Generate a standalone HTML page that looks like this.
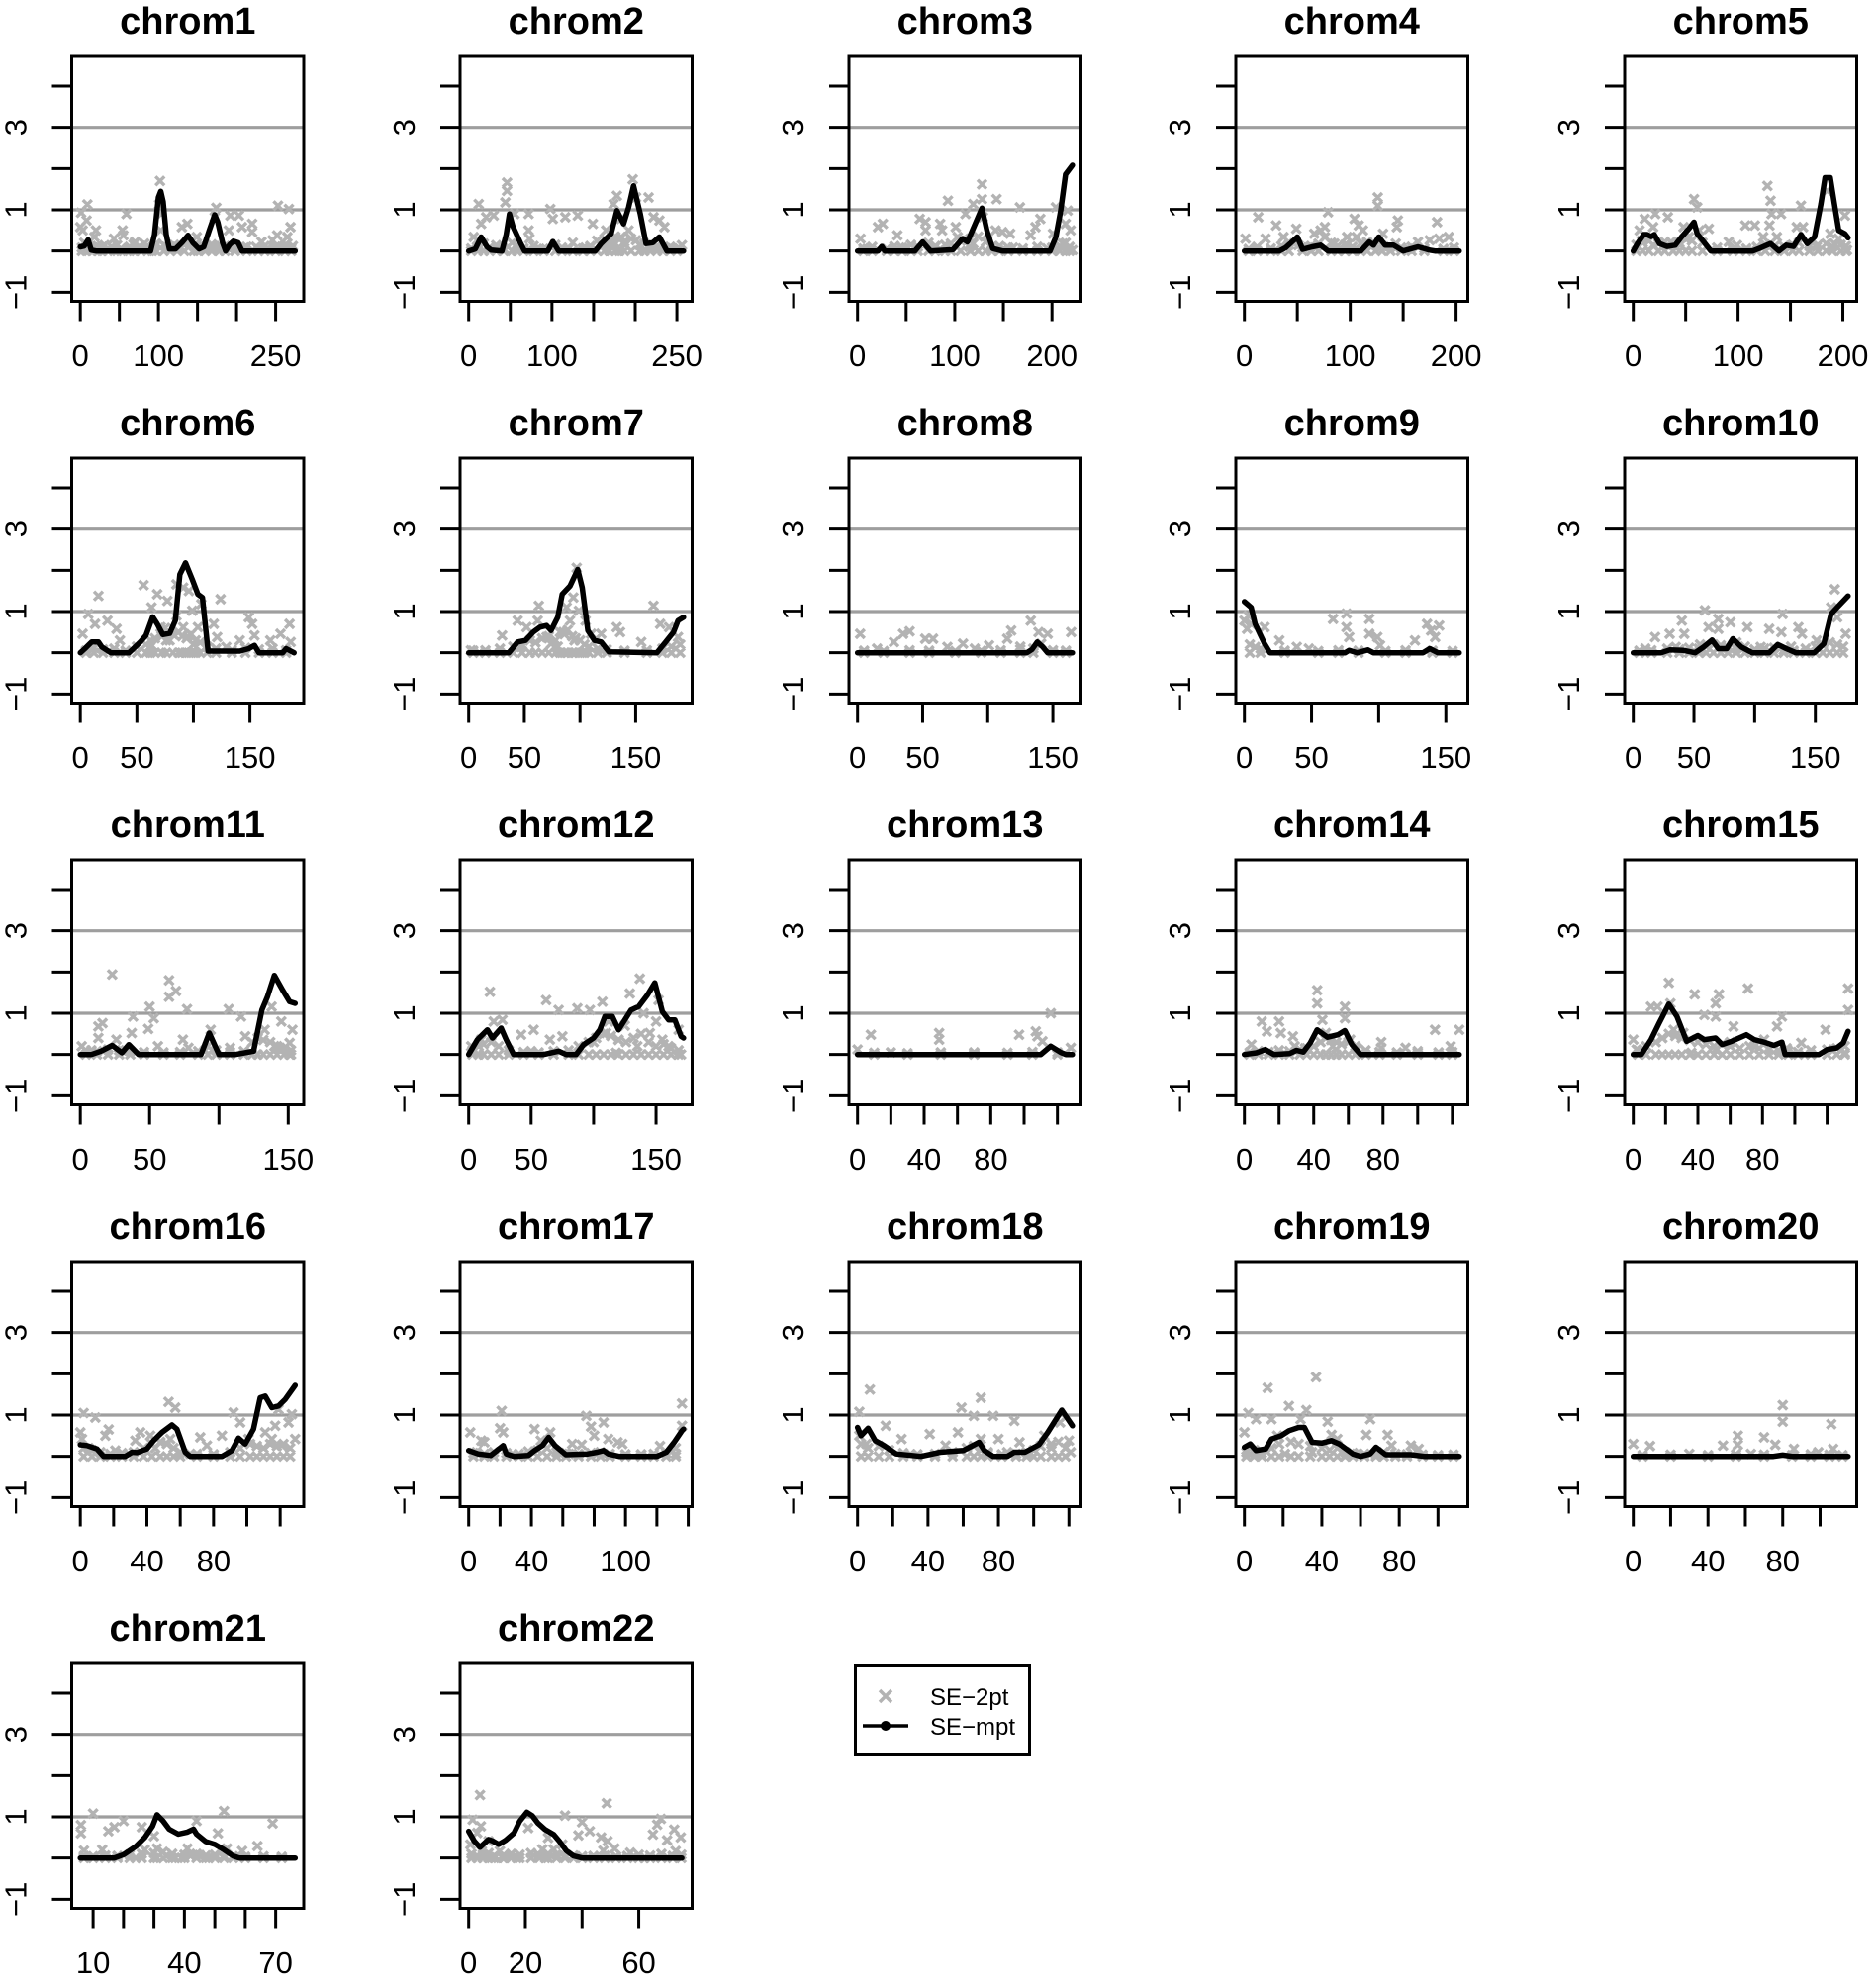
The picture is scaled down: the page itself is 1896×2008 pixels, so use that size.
<!DOCTYPE html>
<html><head><meta charset="utf-8"><style>
html,body{margin:0;padding:0;background:#fff}
svg{display:block}
text{font-family:"Liberation Sans",Arial,sans-serif}
</style></head>
<body>
<svg id="chart" width="1896" height="2008" viewBox="0 0 1896 2008" xmlns="http://www.w3.org/2000/svg">
<rect width="1896" height="2008" fill="#fff"/>
<g id="panels"></g>
<g>
<rect x="864.5" y="1683.5" width="176" height="90" fill="#fff" stroke="#000" stroke-width="3"/>
<g>
<path d="M889 1708 L901 1720 M901 1708 L889 1720" stroke="#b3b3b3" stroke-width="3.5"/>
<text x="940" y="1723" font-size="24">SE−2pt</text>
</g>
<g>
<line x1="872" y1="1744" x2="918" y2="1744" stroke="#000" stroke-width="3.5"/>
<circle cx="895" cy="1744" r="5" fill="#000"/>
<text x="940" y="1753" font-size="24">SE−mpt</text>
</g>
</g>
</svg>
<script>
const chromNames=["chrom1","chrom2","chrom3","chrom4","chrom5","chrom6","chrom7","chrom8","chrom9","chrom10","chrom11","chrom12","chrom13","chrom14","chrom15","chrom16","chrom17","chrom18","chrom19","chrom20","chrom21","chrom22"];
const xMin=[0,0,0,0,0,0,0,0,0,0,0,0,0,0,0,0,0,0,0,0,5.8,0];
const xMax=[275,258,221,203,205,190,193,165,160,177,155,172,129,124,133,129,137,122,111,115,76.4,75.8];
const xTicks=[
[0,50,100,150,200,250],[0,50,100,150,200,250],[0,50,100,150,200],[0,50,100,150,200],[0,50,100,150,200],
[0,50,100,150],[0,50,100,150],[0,50,100,150],[0,50,100,150],[0,50,100,150],
[0,50,100,150],[0,50,100,150],[0,20,40,60,80,100,120],[0,20,40,60,80,100,120],[0,20,40,60,80,100,120],
[0,20,40,60,80,100,120],[0,20,40,60,80,100,120,140],[0,20,40,60,80,100,120],[0,20,40,60,80,100],[0,20,40,60,80,100],
[10,20,30,40,50,60,70],[0,20,40,60]];
const xTickLabels=[
[0,100,250],[0,100,250],[0,100,200],[0,100,200],[0,100,200],
[0,50,150],[0,50,150],[0,50,150],[0,50,150],[0,50,150],
[0,50,150],[0,50,150],[0,40,80],[0,40,80],[0,40,80],
[0,40,80],[0,40,100],[0,40,80],[0,40,80],[0,40,80],
[10,40,70],[0,20,60]];
const yTicks=[-1,0,1,2,3,4];
const yTickLabels=[-1,1,3];
const refLines=[1,3];

const mptLines=[
[[0,.1],[5,.12],[10,.27],[14,.02],[20,0],[90,0],[95,.4],[100,1.3],[103,1.45],[106,1.2],[110,.4],[114,.05],[122,.05],[130,.2],[138,.38],[144,.2],[152,.05],[158,.1],[165,.5],[172,.88],[176,.7],[182,.2],[186,0],[191,.15],[196,.24],[202,.2],[207,0],[275,0]],
[[0,0],[8,.05],[15,.34],[22,.1],[27,.02],[40,0],[45,.4],[49,.9],[53,.6],[58,.38],[62,.2],[67,0],[95,0],[101,.23],[108,0],[152,0],[159,.18],[171,.42],[178,.98],[186,.66],[192,1.06],[198,1.58],[206,.9],[213,.18],[221,.2],[229,.34],[238,0],[258,0]],
[[0,0],[21,0],[25,.11],[28,0],[59,0],[67,.22],[75,0],[98,.03],[108,.3],[113,.22],[121,.66],[128,1.04],[133,.5],[139,.06],[149,0],[198,0],[204,.34],[209,.98],[214,1.86],[221,2.08]],
[[0,0],[33,0],[39,.08],[45,.22],[50,.34],[55,.04],[64,.1],[72,.14],[79,0],[110,0],[118,.22],[122,.14],[127,.34],[133,.14],[141,.14],[150,0],[164,.1],[175,.02],[180,0],[203,0]],
[[0,0],[4,.18],[10,.4],[13,.4],[17,.35],[20,.4],[25,.18],[32,.11],[40,.14],[46,.34],[53,.54],[58,.7],[61,.42],[66,.26],[74,0],[114,0],[120,.06],[131,.18],[139,0],[146,.14],[153,.11],[160,.4],[166,.18],[173,.34],[179,1.14],[183,1.78],[188,1.78],[192,1.14],[196,.5],[202,.42],[205,.32]],
[[0,0],[4,.1],[10,.26],[16,.26],[19,.14],[27,0],[43,0],[53,.26],[58,.42],[64,.87],[68,.7],[73,.44],[79,.47],[84,.78],[88,1.9],[93,2.18],[99,1.78],[104,1.42],[108,1.34],[113,.04],[141,.04],[149,.1],[154,.18],[158,0],[179,0],[182,.1],[189,0]],
[[0,0],[36,0],[44,.26],[51,.3],[58,.5],[64,.62],[70,.66],[74,.54],[80,.86],[84,1.42],[91,1.62],[98,2.02],[102,1.58],[107,.54],[113,.3],[119,.26],[126,.02],[169,0],[177,.26],[184,.5],[188,.78],[193,.86]],
[[0,0],[130,0],[134,.08],[138,.26],[142,.15],[146,0],[165,0]],
[[0,1.24],[5,1.1],[8,.7],[15,.22],[19,0],[75,0],[78,.06],[84,0],[92,.07],[96,0],[133,0],[138,.1],[144,0],[160,0]],
[[0,0],[23,0],[30,.07],[41,.06],[51,0],[58,.14],[65,.31],[70,.1],[77,.1],[82,.34],[89,.14],[98,0],[112,0],[119,.2],[126,.1],[134,0],[149,0],[157,.22],[163,.94],[168,1.1],[177,1.38]],
[[0,0],[8,0],[15,.08],[23,.22],[30,.04],[35,.24],[42,0],[87,0],[93,.52],[100,0],[112,0],[125,.08],[131,1.08],[135,1.4],[140,1.92],[146,1.56],[151,1.28],[155,1.24]],
[[0,0],[7,.36],[15,.6],[19,.4],[26,.64],[30,.36],[36,0],[60,0],[72,.08],[78,0],[86,0],[92,.24],[100,.4],[105,.6],[109,.92],[115,.92],[120,.6],[125,.84],[130,1.08],[136,1.16],[143,1.44],[149,1.74],[155,1.04],[160,.84],[165,.84],[170,.44],[172,.4]],
[[0,0],[110,0],[116,.2],[122,.05],[125,0],[129,0]],
[[0,0],[7,.04],[12,.12],[17,0],[26,.02],[30,.1],[34,.06],[38,.28],[42,.6],[48,.42],[54,.48],[58,.58],[62,.24],[67,0],[124,0]],
[[0,0],[5,0],[11,.36],[16,.76],[22,1.22],[27,.92],[33,.32],[40,.46],[44,.36],[51,.4],[55,.24],[61,.32],[70,.48],[75,.36],[81,.3],[87,.22],[92,.3],[94,0],[115,0],[120,.12],[126,.16],[130,.28],[133,.56]],
[[0,.28],[4,.26],[10,.18],[14,0],[27,0],[31,.1],[34,.09],[40,.18],[44,.38],[49,.58],[55,.76],[58,.66],[63,.1],[66,0],[85,0],[91,.14],[95,.44],[99,.3],[104,.66],[108,1.42],[111,1.46],[115,1.18],[119,1.22],[123,1.38],[129,1.72]],
[[0,.14],[6,.06],[14,.02],[18,.14],[22,.26],[24,.06],[29,0],[38,.02],[42,.14],[47,.26],[51,.46],[55,.26],[62,.04],[76,.06],[82,.1],[86,.14],[89,.06],[96,0],[120,0],[126,.1],[131,.34],[136,.62],[137,.66]],
[[0,.7],[2,.5],[6,.68],[10,.38],[15,.26],[22,.06],[36,0],[47,.1],[60,.14],[69,.34],[72,.14],[77,0],[85,0],[89,.1],[95,.1],[103,.28],[108,.58],[116,1.12],[122,.74]],
[[0,.22],[3,.3],[6,.14],[11,.18],[14,.42],[19,.5],[23,.62],[28,.7],[31,.7],[35,.34],[40,.32],[45,.38],[49,.3],[56,.06],[60,0],[65,.06],[68,.22],[73,.04],[86,.04],[93,0],[111,0]],
[[0,0],[75,0],[80,.03],[85,0],[115,0]],
[[5.8,0],[17,0],[20,.08],[24,.28],[27,.5],[29.5,.77],[31,1.05],[33,.9],[35,.7],[38,.58],[41,.63],[43,.7],[44,.58],[47,.4],[50,.33],[53,.2],[56,.05],[58,0],[76.4,0]],
[[0,.65],[2,.41],[4,.26],[7,.45],[8.6,.41],[10.6,.33],[13,.43],[16,.61],[18,.89],[20.5,1.11],[22.4,1.03],[24.4,.85],[27,.69],[30,.57],[32,.41],[34.4,.18],[37,.05],[40,0],[75.2,0]]
];

const twoPtPoints=[
[[1,.93],[9,1.13],[8,.74],[0,.58],[3,.5],[20,.5],[18,.34],[31,.14],[43,.3],[54,.5],[59,.9],[55,.38],[70,.22],[82,.18],[102,1.7],[101,1.13],[104,.9],[103,.5],[130,.58],[137,.66],[149,.34],[174,1.05],[172,.82],[190,.5],[192,.86],[203,.86],[207,.58],[220,.66],[220,.46],[232,.22],[253,1.1],[252,.38],[267,1.02],[269,.58],[265,.34],[246,.26],[5,.2],[12,.1],[25,.08],[40,.1],[60,.05],[75,.1],[95,.1],[110,.1],[120,.15],[140,.12],[155,.15],[165,.1],[180,.12],[195,.1],[210,.08],[225,.1],[240,.06],[258,.1],[272,.12]],
[[12,1.14],[6,.34],[15,.66],[21,.82],[30,.86],[46,1.66],[46,1.46],[44,1.18],[55,.9],[72,.9],[72,.5],[73,.3],[98,1.02],[101,.78],[116,.82],[131,.86],[149,.66],[165,.5],[174,1.14],[178,1.34],[183,.78],[197,1.74],[201,1.3],[216,1.3],[222,.82],[229,.74],[235,.58],[256,.14],[183,.34],[192,.5],[201,.26],[171,.18],[10,.1],[35,.08],[60,.1],[85,.05],[120,.06],[140,.08],[160,.12],[175,.2],[188,.15],[208,.1],[245,.06]],
[[3,.3],[21,.58],[26,.66],[41,.38],[64,.78],[70,.7],[70,.5],[85,.66],[87,.5],[93,1.22],[101,.58],[103,.34],[111,.9],[119,1.14],[128,1.62],[128,1.26],[129,.82],[143,1.26],[142,.5],[149,.46],[157,.42],[167,1.06],[178,.38],[183,.58],[188,.78],[201,.42],[204,1.06],[214,.66],[219,.5],[216,.98],[221,.02],[211,.18],[134,.26],[119,.18],[10,.05],[50,.08],[80,.1],[115,.1],[160,.08],[195,.06]],
[[1,.3],[13,.82],[20,.3],[30,.62],[37,.34],[49,.54],[47,.18],[66,.42],[72,.5],[79,.94],[76,.58],[76,.34],[85,.18],[97,.34],[104,.78],[108,.62],[112,.5],[106,.34],[126,1.3],[126,1.1],[131,.42],[145,.74],[144,.58],[143,.18],[164,.22],[175,.26],[182,.7],[184,.3],[193,.34],[97,.14],[51,.14],[120,.15],[60,.08],[90,.05],[155,.05]],
[[11,.78],[19,.58],[21,.9],[33,.82],[6,.5],[36,.22],[48,.58],[53,.34],[58,1.26],[61,1.06],[63,.5],[72,.54],[91,.22],[107,.62],[116,.62],[128,1.58],[131,1.22],[132,.9],[130,.62],[141,.9],[137,.34],[124,.34],[160,1.1],[156,.58],[162,.58],[185,1.46],[188,.42],[192,.18],[202,.86],[196,.3],[204,.02],[19,.14],[99,.14],[8,.25],[45,.15],[150,.12],[175,.1]],
[[2,.46],[7,.94],[16,1.38],[13,.7],[24,.78],[32,.58],[35,.3],[56,1.64],[63,1.1],[68,1.42],[71,.62],[77,1.26],[85,1.66],[91,1.58],[96,1.5],[99,1.02],[91,.62],[104,.62],[107,1.18],[118,.7],[124,1.3],[121,.38],[129,.14],[141,.3],[149,.86],[152,.7],[154,.42],[168,.3],[177,.46],[185,.7],[186,.26],[79,.3],[63,.18],[85,.9],[95,.4],[75,.6],[100,.2]],
[[2,.06],[30,.42],[44,.78],[52,.62],[63,1.14],[62,.78],[70,.38],[88,1.1],[91,.78],[97,2.06],[94,1.34],[99,1.02],[105,.78],[110,.46],[119,.46],[133,.62],[136,.5],[155,.26],[166,1.14],[172,.7],[180,.62],[188,.38],[186,.1],[74,.22],[47,.14],[85,.5],[95,.3],[80,.15]],
[[2,.46],[28,.26],[35,.46],[40,.52],[52,.34],[58,.34],[81,.22],[115,.34],[118,.54],[133,.78],[139,.5],[146,.46],[141,.22],[164,.5],[101,.18],[69,.14],[15,.1],[90,.1],[125,.15]],
[[0,.78],[2,.58],[5,.7],[15,.62],[26,.3],[8,.14],[48,.1],[66,.82],[76,.95],[76,.62],[78,.38],[93,.82],[93,.46],[99,.38],[101,.18],[127,.3],[136,.7],[139,.54],[145,.66],[142,.38],[39,.14],[3,.9]],
[[18,.38],[30,.46],[40,.78],[42,.46],[59,1.03],[62,.62],[70,.82],[70,.58],[80,.74],[94,.62],[112,.58],[123,.94],[122,.5],[136,.62],[139,.46],[166,1.54],[163,1.1],[168,.86],[175,.46],[151,.3],[35,.14],[105,.14],[10,.1],[55,.2],[85,.25],[130,.15]],
[[1,.2],[13,.68],[16,.76],[13,.4],[23,1.94],[26,.36],[38,.92],[37,.52],[50,1.16],[49,.62],[53,.88],[64,1.8],[69,1.54],[64,1.4],[77,1.1],[74,.36],[94,.6],[107,1.1],[119,.44],[116,.92],[133,.6],[138,1.16],[145,.8],[144,.16],[151,.28],[153,.6],[140,.2],[151,0],[56,.2],[78,.16],[108,.16],[8,.1],[30,.1],[90,.1]],
[[2,.2],[10,.36],[17,1.52],[20,.8],[27,.84],[42,.48],[52,.6],[62,1.32],[65,.36],[72,1.08],[75,.44],[87,1.12],[97,1.08],[107,1.28],[110,.52],[120,.36],[129,1.48],[137,1.84],[140,1],[145,.52],[152,1.32],[155,.36],[160,.2],[168,.6],[170,0],[135,.2],[118,.04],[50,.08],[100,.3],[125,.7],[150,.8],[112,.8]],
[[8,.48],[49,.52],[49,.36],[0,.12],[97,.48],[107,.56],[108,.44],[111,.32],[116,1],[128,.16],[90,.04],[20,.05],[70,.05]],
[[4,.24],[10,.8],[13,.56],[20,.8],[21,.52],[28,.44],[29,.2],[42,1.56],[42,1.24],[45,.84],[47,.52],[58,1.16],[58,.88],[61,.36],[79,.3],[79,.16],[93,.16],[110,.6],[119,.2],[124,.6],[100,.08],[51,.2],[35,.15],[65,.15]],
[[0,.36],[2,.12],[11,1.16],[15,1.16],[22,1.74],[23,1.24],[25,.6],[31,.52],[38,1.46],[44,.96],[51,1.24],[51,.92],[53,1.46],[62,.68],[71,1.6],[81,.36],[89,.68],[92,.92],[104,.28],[119,.6],[133,1.6],[133,1.08],[131,.04],[51,.12],[36,.04],[60,.3],[75,.2],[95,.15],[110,.1]],
[[0,.58],[1,.42],[2,1.05],[9,.94],[15,.5],[17,.65],[21,.14],[33,.38],[36,.58],[42,.5],[48,.34],[53,1.32],[57,1.18],[54,.42],[72,.46],[76,.26],[85,.5],[92,1.06],[96,.82],[101,.42],[111,.58],[115,.42],[117,.74],[121,.26],[125,.82],[127,1.02],[129,.42],[119,1.14],[66,.06],[29,.06],[5,.2],[45,.2]],
[[1,.58],[8,.38],[10,.34],[20,.68],[21,1.1],[22,.58],[42,.66],[46,.38],[52,.58],[66,.3],[72,.28],[75,.98],[78,.72],[86,.82],[80,.5],[89,.42],[95,.34],[98,.3],[122,.25],[136,1.28],[136,.74],[132,.06],[64,.06],[28,.06],[5,.1],[110,.05]],
[[1,1.08],[7,1.62],[1,.5],[16,.74],[25,.42],[41,.54],[50,.26],[59,1.18],[57,.58],[66,.98],[70,1.42],[70,.42],[77,.98],[80,.42],[89,.86],[92,.34],[106,.5],[115,.82],[120,.38],[121,.1],[74,.06],[5,.3],[30,.05],[85,.1],[110,.2]],
[[0,.58],[2,1.05],[6,.9],[12,1.66],[14,.9],[17,.5],[23,1.22],[29,.9],[32,1.12],[37,1.92],[43,.84],[45,.52],[48,.42],[65,.9],[63,.52],[74,.52],[76,.26],[86,.26],[90,.18],[58,.06],[21,.06],[5,.1],[35,.1]],
[[0,.3],[9,.25],[48,.26],[56,.5],[56,.28],[70,.46],[76,.28],[80,1.24],[80,.84],[86,.18],[99,.1],[106,.78],[107,.18],[30,.06],[63,.06]],
[[6,.8],[6,.6],[7,.18],[10,1.08],[13,.2],[15,.65],[17,.75],[20,.9],[26,.75],[27,.2],[30,.53],[31,.23],[31,0],[37,0],[41,.23],[44,.9],[45,.07],[51,.6],[53,1.14],[54,.23],[59,.17],[64,.29],[69,.84],[48,0],[24,0],[39,0],[34,.05],[42,.05]],
[[0.6,.33],[1.4,.93],[3,.61],[4,1.53],[4.3,.77],[4.6,.17],[7,.41],[11,.17],[12.5,0],[17,0],[21,.73],[26,.21],[28,.49],[30,.21],[34,1.03],[33,.33],[38.7,.55],[40,.87],[42.7,.65],[46.7,.5],[48.7,1.33],[49,.41],[47.5,.18],[51.5,.23],[57,.13],[65,.57],[66.5,.81],[67.8,.95],[70,.43],[72.5,.69],[74.8,.5],[73,.17],[27,0],[8,0],[62,0]]
];

// dense low-value SE-2pt points (near zero) per chromosome: x positions and values
const baseX=[
[2,8,15,22,28,35,47,52,63,68,78,86,92,97,107,115,124,133,145,150,160,168,178,185,198,213,228,236,250,262,270],
[3,11,18,25,33,42,52,58,66,78,90,104,112,125,137,146,154,163,169,176,181,187,195,205,211,218,226,233,242,250],
[6,15,30,38,46,55,62,73,80,90,96,106,116,124,132,138,146,155,170,185,200,208,214,218],
[4,12,25,35,42,55,63,70,82,88,95,102,110,116,124,130,138,148,158,170,188,198],
[3,9,15,24,30,38,44,50,56,66,80,95,108,118,126,135,144,152,158,168,176,184,190,198,203],
[5,12,20,30,40,50,58,62,66,72,76,82,87,90,94,98,102,106,112,120,134,146,158,170,182],
[4,15,28,40,48,55,60,66,72,78,82,86,89,93,96,100,104,108,116,124,140,160,174,182,190],
[5,20,40,55,75,95,110,125,135,150,160],
[4,12,30,55,70,85,105,120,140,155],
[5,15,28,38,46,54,60,66,72,78,85,92,100,108,116,124,132,142,150,156,162,168,173],
[4,12,20,28,36,46,60,72,85,92,98,108,118,124,128,132,137,142,147,152],
[3,8,12,18,24,32,44,56,68,80,88,96,102,108,114,120,126,132,138,144,150,156,162,168],
[10,30,50,70,90,105,120],
[3,8,14,20,26,32,36,40,44,47,50,53,56,60,64,70,78,88,100,112,120],
[3,8,14,18,22,26,30,35,40,45,50,55,60,66,72,78,84,90,96,102,110,120,126,131],
[2,7,12,18,25,32,38,43,48,52,56,60,70,80,90,96,102,106,110,114,118,122,126],
[3,10,16,24,32,38,44,50,56,62,70,78,84,90,100,110,118,126,132],
[2,6,12,18,26,34,44,54,62,66,70,74,82,90,96,100,104,110,114,118],
[1,5,9,14,18,24,28,34,40,44,48,52,56,62,68,72,78,84,92,100,108],
[5,20,40,55,70,85,95,105,112],
[7,10,14,18,22,26,30,33,36,40,44,47,50,53,56,60,66,72],
[1,3,5,7,9,12,15,18,22,25,28,31,34,37,40,44,48,52,56,60,64,68,72,75]
];
const baseY=[
[.08,.15,.05,.12,.1,.04,.14,.06,.1,.16,.05,.12,.08,.18,.14,.06,.1,.15,.12,.05,.1,.16,.08,.12,.06,.1,.05,.12,.08,.14,.06],
[.06,.12,.18,.08,.14,.05,.2,.1,.06,.12,.05,.15,.08,.2,.06,.12,.25,.3,.2,.35,.28,.22,.3,.15,.18,.1,.12,.06,.1,.05],
[.06,.1,.05,.12,.08,.15,.1,.2,.12,.15,.18,.25,.3,.35,.22,.1,.12,.08,.06,.1,.08,.12,.2,.1],
[.05,.1,.06,.12,.15,.08,.12,.18,.2,.12,.15,.1,.18,.22,.15,.12,.1,.08,.1,.06,.05,.08],
[.15,.2,.25,.18,.22,.15,.2,.3,.25,.2,.08,.05,.06,.1,.15,.12,.1,.15,.2,.12,.15,.18,.1,.15,.12],
[.05,.12,.08,.1,.05,.15,.2,.3,.35,.4,.3,.45,.5,.4,.35,.45,.3,.25,.15,.1,.06,.12,.08,.1,.06],
[.05,.06,.1,.15,.2,.3,.25,.35,.4,.3,.5,.45,.55,.4,.35,.3,.2,.15,.1,.08,.05,.06,.1,.15,.2],
[.05,.04,.06,.05,.04,.05,.06,.08,.1,.06,.05],
[.2,.1,.05,.04,.06,.05,.04,.06,.05,.04],
[.05,.06,.1,.08,.12,.1,.15,.2,.18,.12,.1,.15,.08,.1,.12,.06,.05,.1,.15,.2,.25,.2,.15],
[.1,.08,.12,.1,.08,.06,.05,.06,.08,.2,.1,.06,.08,.3,.4,.35,.3,.2,.15,.1],
[.1,.2,.25,.3,.2,.1,.06,.05,.08,.1,.2,.3,.4,.5,.45,.35,.3,.4,.5,.3,.2,.25,.15,.1],
[.04,.03,.05,.03,.04,.06,.05],
[.05,.08,.06,.1,.08,.12,.15,.2,.3,.4,.35,.3,.25,.3,.2,.1,.06,.05,.04,.05,.06],
[.1,.2,.3,.4,.5,.45,.4,.35,.3,.25,.2,.25,.2,.15,.2,.15,.12,.1,.08,.06,.1,.12,.15,.2],
[.2,.15,.1,.06,.08,.1,.2,.3,.35,.3,.2,.1,.06,.05,.1,.2,.3,.25,.2,.3,.25,.3,.2],
[.08,.06,.1,.08,.06,.12,.15,.2,.1,.08,.06,.08,.1,.06,.05,.04,.06,.08,.2],
[.3,.2,.25,.15,.08,.05,.06,.1,.2,.25,.15,.1,.05,.06,.1,.15,.25,.3,.35,.2],
[.1,.15,.08,.2,.3,.35,.3,.25,.2,.15,.2,.1,.08,.06,.05,.1,.06,.05,.04,.03,.04],
[.03,.04,.03,.05,.04,.03,.05,.04,.03],
[.05,.04,.06,.05,.08,.1,.12,.15,.1,.08,.1,.06,.08,.05,.04,.03,.04,.03],
[.1,.05,.08,.12,.06,.05,.1,.08,.12,.06,.1,.08,.05,.06,.04,.05,.06,.04,.05,.08,.06,.1,.05,.08]
];

const NS="http://www.w3.org/2000/svg";
const COL_LEFT=[72.5,465,858,1249,1642];
const ROW_TOP=[57,463,869,1275,1681];
const BW=234.5, BH=247.5;
const YLIM=[-1,4.5];
function mk(tag,attrs,parent){const e=document.createElementNS(NS,tag);for(const k in attrs)e.setAttribute(k,attrs[k]);parent.appendChild(e);return e;}
const root=document.getElementById('panels');

chromNames.forEach(function(name,i){
  const L=COL_LEFT[i%5], T=ROW_TOP[Math.floor(i/5)];
  const r=xMax[i]-xMin[i];
  const x0=xMin[i]-0.04*r, x1=xMax[i]+0.04*r;
  const yr=YLIM[1]-YLIM[0];
  const y0=YLIM[0]-0.04*yr, y1=YLIM[1]+0.04*yr;
  const sx=function(v){return L+(v-x0)/(x1-x0)*BW;};
  const sy=function(v){return T+BH-(v-y0)/(y1-y0)*BH;};
  const g=mk('g',{},root);
  
  
  const title=mk('text',{x:L+BW/2,y:T-23,'font-size':38,'font-weight':'bold','text-anchor':'middle'},g);
  title.textContent=name;
  
  
  refLines.forEach(function(v){
    const l=mk('line',{x1:L,x2:L+BW,y1:sy(v),y2:sy(v),stroke:'#9e9e9e','stroke-width':3.2},g);
    
    
  });
  const sg=mk('g',{stroke:'#b3b3b3','stroke-width':3.4},g);
  
  
  let d='';
  function addX(xv,yv){const cx=sx(xv),cy=sy(yv);d+='M'+(cx-4.5)+' '+(cy-4.5)+'L'+(cx+4.5)+' '+(cy+4.5)+'M'+(cx+4.5)+' '+(cy-4.5)+'L'+(cx-4.5)+' '+(cy+4.5);}
  twoPtPoints[i].forEach(function(p){addX(p[0],p[1]);});
  baseX[i].forEach(function(xv,k){addX(xv,baseY[i][k]);addX(xv,0);});
  mk('path',{d:d},sg);
  const pts=mptLines[i].map(function(p){return sx(p[0]).toFixed(1)+','+sy(p[1]).toFixed(1);}).join(' ');
  const pl=mk('polyline',{points:pts,fill:'none',stroke:'#000','stroke-width':5.5,'stroke-linejoin':'round','stroke-linecap':'round'},g);
  
  
  const box=mk('rect',{x:L,y:T,width:BW,height:BH,fill:'none',stroke:'#000','stroke-width':3},g);
  
  
  const ya=mk('g',{},g);
  
  
  yTicks.forEach(function(v){mk('line',{x1:L-20,x2:L,y1:sy(v),y2:sy(v),stroke:'#000','stroke-width':3},ya);});
  yTickLabels.forEach(function(v){
    const t=mk('text',{x:L-46,y:sy(v),'font-size':31,'text-anchor':'middle',transform:'rotate(-90 '+(L-46)+' '+sy(v)+')'},ya);
    t.textContent=(v<0?'\u2212'+Math.abs(v):String(v));
  });
  const xa=mk('g',{},g);
  
  
  xTicks[i].forEach(function(v){mk('line',{x1:sx(v),x2:sx(v),y1:T+BH,y2:T+BH+20,stroke:'#000','stroke-width':3},xa);});
  xTickLabels[i].forEach(function(v){
    const t=mk('text',{x:sx(v),y:T+313,'font-size':31,'text-anchor':'middle'},xa);
    t.textContent=String(v);
  });
});
</script>
</body></html>
